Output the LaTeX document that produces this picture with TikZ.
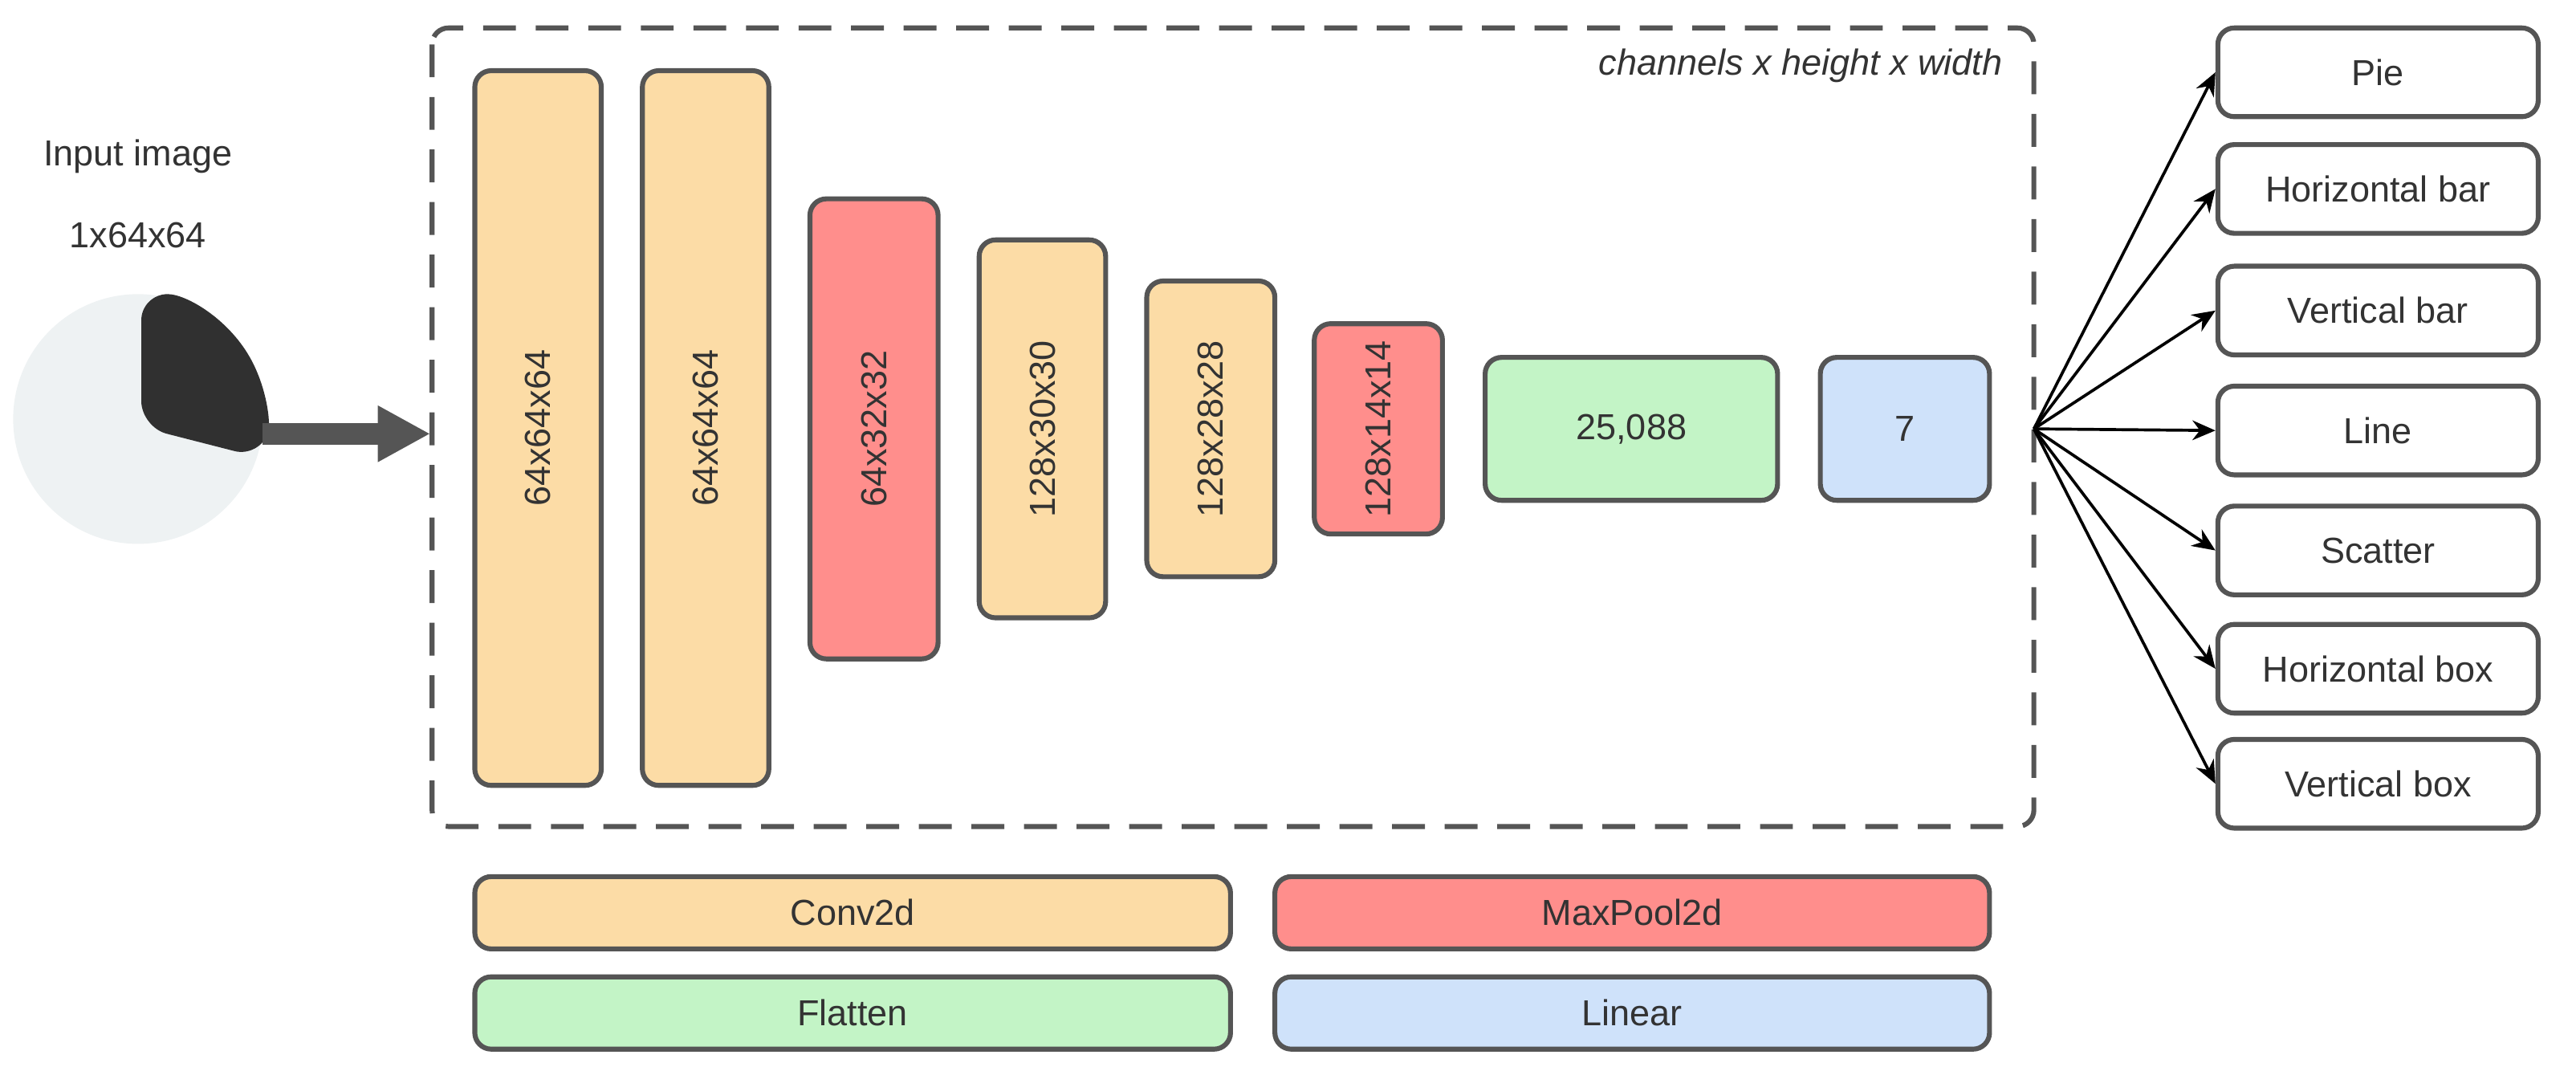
\documentclass[tikz,border=0pt]{standalone}
\usepackage{fontspec}
\setmainfont{Liberation Sans}
\usetikzlibrary{arrows.meta}
\definecolor{edge}{HTML}{555555}
\definecolor{conv}{HTML}{FCDCA6}
\definecolor{pool}{HTML}{FF8E8C}
\definecolor{flat}{HTML}{C3F4C6}
\definecolor{lin}{HTML}{CFE2FA}
\definecolor{piebg}{HTML}{EEF2F3}
\definecolor{piefg}{HTML}{303030}
\begin{document}
\begin{tikzpicture}[x=0.5pt,y=-0.5pt,font=\fontsize{11}{13}\selectfont,text=black!80,
  blk/.style={draw=edge,line width=1.5pt,rounded corners=5pt,inner sep=0pt},
  outbox/.style={blk,fill=white,minimum width=97.5pt,minimum height=27pt},
  leg/.style={blk,minimum width=230pt,minimum height=22pt},
  arr/.style={-{Stealth[length=7pt,width=6pt]},line width=0.9pt,black}]
\useasboundingbox (0,0) rectangle (1568,649);
\draw[edge,line width=1.5pt,dash pattern=on 10pt off 6pt,rounded corners=5pt] (263,17) rectangle (1238,503);
\node[anchor=east,font=\fontsize{11}{13}\selectfont\itshape] (lbl) at (1226,40) {channels x height x width};
\node (t1) at (84,95) {Input image};
\node (t2) at (84,143) {1x64x64};
\fill[piebg] (84,255) circle (76);
\fill[piefg,rounded corners=8pt] (86,260) -- (86,179) arc[start angle=-90,end angle=18,radius=76] -- cycle;
\coordinate (pa) at (160,264);
\coordinate (pb) at (262,264);
\draw[edge,line width=6.5pt,-{Triangle[length=16pt,width=16pt]}] (pa) -- (pb);
\foreach \n/\xa/\xb/\ya/\yb/\c/\t in {a/289/366/43/478/conv/64x64x64,b/391/468/43/478/conv/64x64x64,c/493/571/121/401/pool/64x32x32,d/596/673/146/376/conv/128x30x30,e/698/776/171/351/conv/128x28x28,f/800/878/197/325/pool/128x14x14}{
  \node[blk,fill=\c,minimum width={(\xb-\xa)*0.5pt},minimum height={(\yb-\ya)*0.5pt}] (\n) at ({(\xa+\xb)/2},{(\ya+\yb)/2}) {};
  \node[rotate=90] at (\n) {\t};
}
\node[blk,fill=flat,minimum width=89pt,minimum height=43.5pt] (g) at (993,261) {25,088};
\node[blk,fill=lin,minimum width=51.5pt,minimum height=43.5pt] (h) at (1159.5,261) {7};
\coordinate (src) at (1238,261);
\foreach \n/\y/\t in {o1/44/Pie,o2/115/Horizontal bar,o3/189/Vertical bar,o4/262/Line,o5/335/Scatter,o6/407/Horizontal box,o7/477/Vertical box}{
  \node[outbox] (\n) at (1447.5,\y) {\t};
  \draw[arr] (src) -- (\n.west);
}
\node[leg,fill=conv] (l1) at (519,555.5) {Conv2d};
\node[leg,fill=pool,minimum width=217.5pt] (l2) at (993.5,555.5) {MaxPool2d};
\node[leg,fill=flat] (l3) at (519,616.5) {Flatten};
\node[leg,fill=lin,minimum width=217.5pt] (l4) at (993.5,616.5) {Linear};
\end{tikzpicture}
\end{document}
